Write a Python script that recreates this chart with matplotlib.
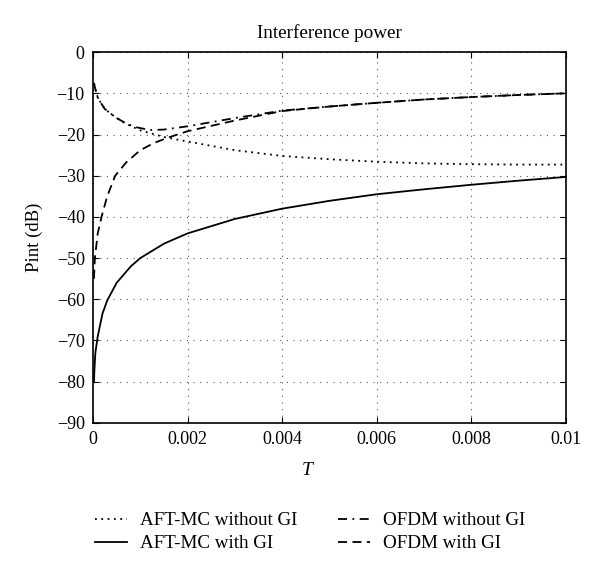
import matplotlib
matplotlib.use("Agg")
import matplotlib.pyplot as plt

plt.rcParams['font.family'] = ['Liberation Serif', 'DejaVu Serif']
plt.rcParams['mathtext.fontset'] = 'custom'
plt.rcParams['mathtext.it'] = 'Liberation Serif:italic'

# Data
T_solid = [0.00002, 0.00003, 0.00005, 0.0001, 0.0002, 0.0003, 0.0005, 0.0008, 0.001,
           0.0015, 0.002, 0.003, 0.004, 0.005, 0.006, 0.007, 0.008, 0.009, 0.01]
aft_with_gi = [-80, -77, -73, -69, -63.5, -60.3, -56, -52, -50,
               -46.5, -44, -40.5, -38, -36.1, -34.5, -33.3, -32.2, -31.2, -30.3]

T_dashed = [0.00002, 0.00004, 0.0001, 0.00018, 0.0003, 0.00047, 0.0007, 0.001, 0.0013,
            0.0016, 0.002, 0.003, 0.004, 0.005, 0.006, 0.007, 0.008, 0.009, 0.01]
ofdm_with_gi = [-55, -50, -44, -40, -35, -30, -26.8, -23.8, -22,
                -20.7, -19.2, -16.6, -14.3, -13.2, -12.3, -11.5, -10.9, -10.4, -10.0]

T_dashdot = [0.00002, 0.00005, 0.0001, 0.00015, 0.00025, 0.00036, 0.0005, 0.0007, 0.0009,
             0.0012, 0.0015, 0.002, 0.003, 0.004, 0.005, 0.006, 0.007, 0.008, 0.009, 0.01]
ofdm_without_gi = [-7.5, -9, -11, -12, -13.8, -14.8, -16, -17.3, -18.2,
                   -18.9, -18.8, -18, -16, -14.2, -13.2, -12.3, -11.5, -10.9, -10.4, -10.0]

T_dotted = [0.00002, 0.00005, 0.0001, 0.00015, 0.00025, 0.00036, 0.0005, 0.0007, 0.001,
            0.0015, 0.002, 0.003, 0.004, 0.005, 0.006, 0.007, 0.008, 0.009, 0.01]
aft_without_gi = [-7.5, -9, -11, -12, -13.8, -14.8, -16, -17.4, -19,
                  -20.6, -21.7, -23.8, -25.2, -26, -26.6, -27, -27.2, -27.3, -27.3]

xticks = [0, 0.002, 0.004, 0.006, 0.008, 0.01]
xticklabels = ['0', '0.002', '0.004', '0.006', '0.008', '0.01']
yticks = [0, -10, -20, -30, -40, -50, -60, -70, -80, -90]

fig = plt.figure(figsize=(6, 5.73), dpi=100)
ax = fig.add_axes([0.155, 0.262, 0.788, 0.647])

lw = 1.3
ax.plot(T_dotted, aft_without_gi, color='black', lw=lw, linestyle=(0, (1, 2.5)),
        label='AFT-MC without GI')
ax.plot(T_solid, aft_with_gi, color='black', lw=lw, linestyle='-',
        label='AFT-MC with GI')
ax.plot(T_dashdot, ofdm_without_gi, color='black', lw=lw, linestyle=(0, (5, 3, 1, 3)),
        label='OFDM without GI')
ax.plot(T_dashed, ofdm_with_gi, color='black', lw=lw, linestyle=(0, (5, 3)),
        label='OFDM with GI')

ax.set_xlim(0, 0.01)
ax.set_ylim(-90, 0)
ax.set_xticks(xticks)
ax.set_xticklabels(xticklabels)
ax.set_yticks(yticks)
ax.set_yticklabels([str(v).replace('-', '\u2212') for v in yticks])
ax.tick_params(direction='in', top=True, right=True, labelsize=13, length=4, pad=6)
ax.grid(True, color='#555555', linestyle=(0, (1, 5)), linewidth=0.8)
for s in ax.spines.values():
    s.set_linewidth(1.2)

ax.set_title('Interference power', fontsize=13.8, pad=10)
ax.set_xlabel('$T$', fontsize=14)
ax.xaxis.set_label_coords(0.455, -0.105)
ax.set_ylabel('Pint (dB)', fontsize=13.5, labelpad=10)

fig.legend(loc='lower center', bbox_to_anchor=(0.517, 0.006), ncol=2, frameon=False,
           fontsize=13.7, handlelength=1.7, columnspacing=2.1, labelspacing=0.3,
           handletextpad=0.7)

fig.savefig('out.png', dpi=100)
